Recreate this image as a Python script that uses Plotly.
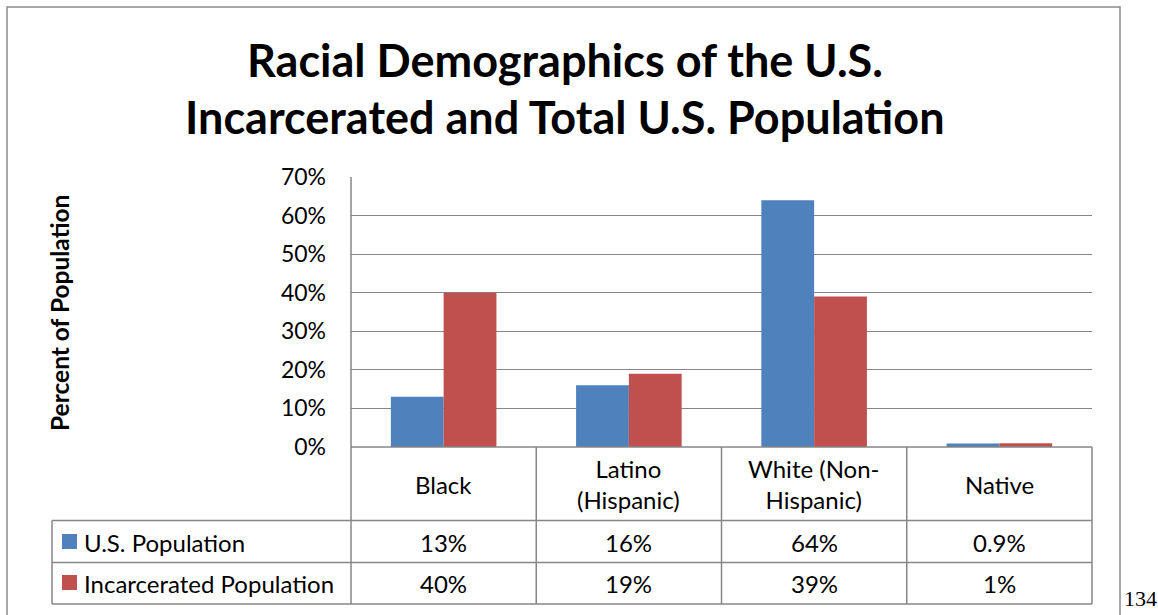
import plotly.graph_objects as go

# Chart data
categories = ["Black", "Latino (Hispanic)", "White (Non-Hispanic)", "Native"]
category_labels = ["Black", "Latino<br>(Hispanic)", "White (Non-<br>Hispanic)", "Native"]
series_names = ["U.S. Population", "Incarcerated Population"]
us_population = [13, 16, 64, 0.9]
incarcerated_population = [40, 19, 39, 1]
y_ticks = [0, 10, 20, 30, 40, 50, 60, 70]

W, H = 1158, 615
BLUE = "#4F81BD"
RED = "#C0504D"
GRID = "#868686"
FONT = "Lato"
TXT = 24


def px(x):
    return x / W


def py(y):
    return 1 - y / H


# plot-area geometry (pixels)
PL, PR, PT, PB = 351, 1092, 177, 447
ROW1, ROW2, ROWB = 520.5, 562.5, 604
TL = 52

fig = go.Figure()
fig.add_trace(go.Bar(x=categories, y=us_population, name=series_names[0],
                     marker=dict(color=BLUE, line=dict(width=0))))
fig.add_trace(go.Bar(x=categories, y=incarcerated_population, name=series_names[1],
                     marker=dict(color=RED, line=dict(width=0))))

fig.update_layout(
    width=W, height=H,
    margin=dict(l=0, r=0, t=0, b=0, autoexpand=False),
    paper_bgcolor="white", plot_bgcolor="white",
    barmode="group", bargap=0.43, bargroupgap=0,
    showlegend=False,
    font=dict(family=FONT, color="black"),
    xaxis=dict(domain=[px(PL), px(PR)], range=[-0.5, 3.5], showticklabels=False,
               showgrid=False, zeroline=False, showline=False, ticks="",
               automargin=False),
    yaxis=dict(domain=[py(PB), py(PT)], range=[0, 70], tickvals=y_ticks,
               ticktext=[f"{v}%" for v in y_ticks], showgrid=True, gridcolor=GRID,
               gridwidth=1, zeroline=False, showline=False, ticks="",
               ticklabelstandoff=24, automargin=False,
               tickfont=dict(size=23, family=FONT, color="black")),
)

shapes = []


def line(x0, y0, x1, y1, w=1.5):
    shapes.append(dict(type="line", xref="paper", yref="paper",
                       x0=px(x0), y0=py(y0), x1=px(x1), y1=py(y1),
                       line=dict(color=GRID, width=w), layer="above"))


# outer chart frame
shapes.append(dict(type="rect", xref="paper", yref="paper",
                   x0=px(7), y0=-0.05, x1=px(1120), y1=py(7),
                   line=dict(color="#8a8a8a", width=1.5), fillcolor="rgba(0,0,0,0)"))

# axes and data table grid
col_edges = [PL + i * (PR - PL) / 4 for i in range(5)]
line(PL, PT, PL, ROWB)
line(PL, PB, PR, PB)
for xe in col_edges[1:]:
    line(xe, PB, xe, ROWB)
for yr in (ROW1, ROW2, ROWB):
    line(TL, yr, PR, yr)
line(TL, ROW1, TL, ROWB)


def text(x, y, s, size=TXT, xanchor="center", **kw):
    return dict(x=px(x), y=py(y), xref="paper", yref="paper", text=s,
                showarrow=False, xanchor=xanchor, yanchor="middle",
                font=dict(size=size, family=kw.pop("family", FONT), color="black"), **kw)


annotations = []
# column headers and values
centers = [(col_edges[i] + col_edges[i + 1]) / 2 for i in range(4)]
for i, c in enumerate(centers):
    annotations.append(text(c, 484, category_labels[i], align="center"))
    annotations.append(text(c, 542, f"{us_population[i]:g}%"))
    annotations.append(text(c, 583, f"{incarcerated_population[i]:g}%"))

# legend keys inside the table
for name, color, yc in ((series_names[0], BLUE, 541.5), (series_names[1], RED, 582.5)):
    shapes.append(dict(type="rect", xref="paper", yref="paper",
                       x0=px(62), x1=px(77), y0=py(yc - 7.5), y1=py(yc + 7.5),
                       line=dict(width=0), fillcolor=color))
    annotations.append(text(82, yc + 0.5, name, xanchor="left"))

# title
annotations.append(text(565, 60, "<b>Racial Demographics of the U.S.</b>", size=45))
annotations.append(text(565, 117, "<b>Incarcerated and Total U.S. Population</b>", size=45))

# y-axis title
annotations.append(text(59, 313, "<b>Percent of Population</b>", size=24.5, textangle=-90))

# page number
annotations.append(text(1140, 598, "134", size=22, family="Liberation Serif"))

fig.update_layout(shapes=shapes, annotations=annotations)
fig.write_html("out.html")
